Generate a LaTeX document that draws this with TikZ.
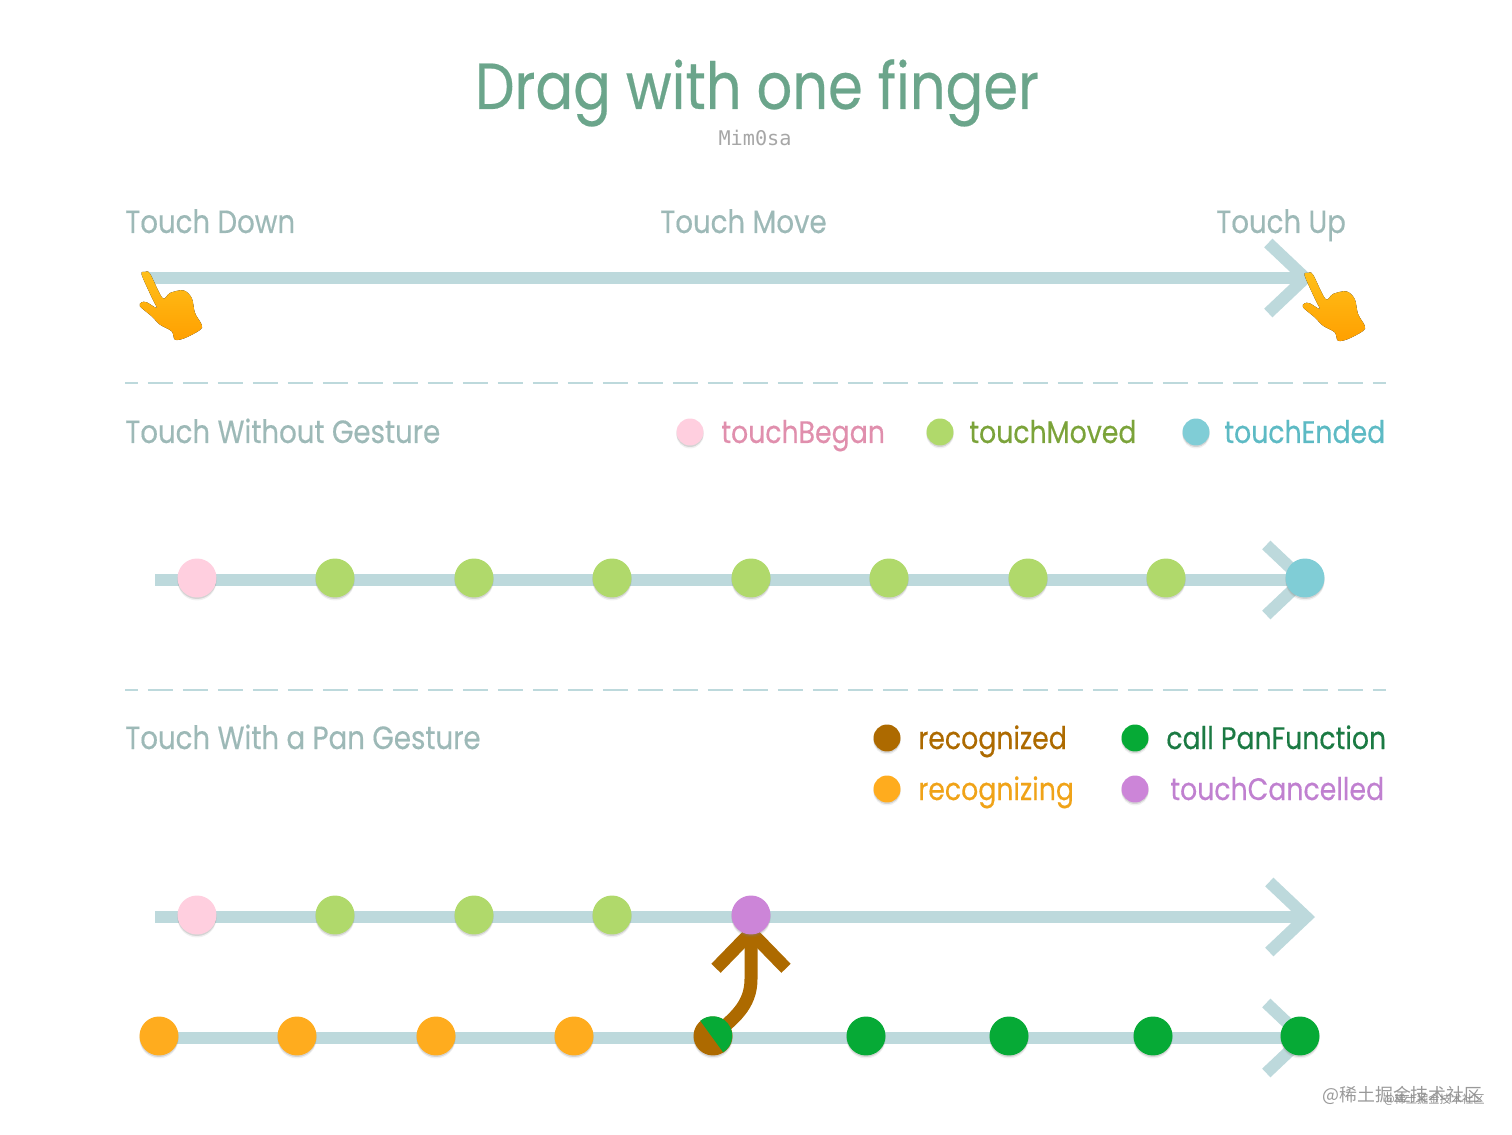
\documentclass[tikz,border=0pt]{standalone}
\usepackage{fontspec}
\setmainfont{Poppins}[FakeStretch=0.86,FakeBold=0.35]
\setmonofont{DejaVu Sans Mono}
\newfontfamily\cjk{Noto Sans CJK SC}
\usetikzlibrary{arrows.meta,backgrounds,shadows}
\definecolor{trackcol}{HTML}{BDD9DC}
\definecolor{headcol}{HTML}{6BA58B}
\definecolor{capcol}{HTML}{9DB9B7}
\definecolor{begancol}{HTML}{FFCFDF}
\definecolor{movedcol}{HTML}{B0D96B}
\definecolor{endedcol}{HTML}{80CDD6}
\definecolor{recogcol}{HTML}{AD6A00}
\definecolor{panscol}{HTML}{FFAC1E}
\definecolor{callcol}{HTML}{06AA36}
\definecolor{cancelcol}{HTML}{CC85D8}
\definecolor{begantxt}{HTML}{E08FAD}
\definecolor{movedtxt}{HTML}{7BA33A}
\definecolor{endedtxt}{HTML}{5DBAC4}
\definecolor{pantxt}{HTML}{F0A318}
\definecolor{calltxt}{HTML}{1B7A43}
\definecolor{canceltxt}{HTML}{C080D0}
\tikzset{
  dot/.style={circle,minimum size=0.78cm,inner sep=0pt,
    drop shadow={shadow xshift=0pt,shadow yshift=-0.06cm,opacity=0.12},
    drop shadow={shadow xshift=0pt,shadow yshift=-0.03cm,opacity=0.25}},
  keydot/.style={dot,minimum size=0.54cm},
  track/.style={draw=trackcol,line width=0.24cm,-{Straight Barb[length=0.74cm,width=1.4cm,line width=0.24cm]}},
  panarrow/.style={draw=recogcol,line width=0.26cm,-{Straight Barb[length=0.72cm,width=1.4cm,line width=0.26cm]}},
  caption/.style={anchor=base west,inner sep=0pt,font=\fontsize{18.3}{24}\selectfont,text=capcol},
  keytext/.style={caption,font=\fontsize{17.7}{24}\selectfont},
  divider/.style={draw=trackcol,line width=0.04cm,dash pattern=on 0.5cm off 0.2cm,dash phase=0.24cm},
  hand/.pic={
    \fill[top color=yellow!45!orange!90,bottom color=orange!75!yellow] plot[smooth cycle,tension=0.55] coordinates {
      (-3.3,-2.7) (0,0) (5,-1.7) (17.5,-26) (25,-21) (38.3,-18.3) (46.7,-26) (50,-41) (56.7,-52.7) (55,-58)
      (40,-66) (30,-67.7) (26.7,-59.3) (15,-52.7) (6.7,-44.3) (-5,-34.3) (-3.3,-30.3) (1.7,-30.3) (11.7,-36) (7.5,-27)};
  }
}
\begin{document}
\begin{tikzpicture}[x=0.02cm,y=0.02cm]
  \useasboundingbox (0,0) rectangle (1512,1134);
  \node[anchor=base,inner sep=0pt,font=\fontsize{37}{46}\selectfont,text=headcol] (title) at (757,1025) {Drag with one finger};
  \node[inner sep=0pt,font=\ttfamily\fontsize{11.5}{14}\selectfont,text=black!35] (author) at (755,996) {Mim0sa};

  \node[caption] (down) at (125,901) {Touch Down};
  \node[caption] (move) at (660,901) {Touch Move};
  \node[caption] (up) at (1216,901) {Touch Up};
  \coordinate (trackAs) at (148,856);
  \coordinate (trackAe) at (1314,856);

  \node[caption] (without) at (125,691) {Touch Without Gesture};
  \node[keydot,fill=begancol] (keybegan) at (690,702) {};
  \node[keytext,text=begantxt] (txtbegan) at (721,691) {touchBegan};
  \node[keydot,fill=movedcol] (keymoved) at (940,702) {};
  \node[keytext,text=movedtxt] (txtmoved) at (969,691) {touchMoved};
  \node[keydot,fill=endedcol] (keyended) at (1196,702) {};
  \node[keytext,text=endedtxt] (txtended) at (1224,691) {touchEnded};

  \node[dot,fill=begancol] (plainA) at (197,556) {};
  \node[dot,fill=movedcol] (plainB) at (335,556) {};
  \node[dot,fill=movedcol] (plainC) at (474,556) {};
  \node[dot,fill=movedcol] (plainD) at (612,556) {};
  \node[dot,fill=movedcol] (plainE) at (751,556) {};
  \node[dot,fill=movedcol] (plainF) at (889,556) {};
  \node[dot,fill=movedcol] (plainG) at (1028,556) {};
  \node[dot,fill=movedcol] (plainH) at (1166,556) {};
  \node[dot,fill=endedcol] (plainI) at (1305,556) {};
  \coordinate (trackBs) at (155,554);
  \coordinate (trackBe) at (1312,554);

  \node[caption] (with) at (125,385) {Touch With a Pan Gesture};
  \node[keydot,fill=recogcol] (keyrecog) at (887,396) {};
  \node[keytext,text=recogcol] (txtrecog) at (918,385) {recognized};
  \node[keydot,fill=callcol] (keycall) at (1135,396) {};
  \node[keytext,text=calltxt] (txtcall) at (1166,385) {call PanFunction};
  \node[keydot,fill=panscol] (keypan) at (887,345) {};
  \node[keytext,text=pantxt] (txtpan) at (918,334) {recognizing};
  \node[keydot,fill=cancelcol] (keycancel) at (1135,345) {};
  \node[keytext,text=canceltxt] (txtcancel) at (1170,334) {touchCancelled};

  \node[dot,fill=begancol] (gestA) at (197,219) {};
  \node[dot,fill=movedcol] (gestB) at (335,219) {};
  \node[dot,fill=movedcol] (gestC) at (474,219) {};
  \node[dot,fill=movedcol] (gestD) at (612,219) {};
  \node[dot,fill=cancelcol] (gestE) at (751,219) {};
  \coordinate (trackCs) at (155,217);
  \coordinate (trackCe) at (1315,217);

  \node[dot,fill=panscol] (panA) at (159,98) {};
  \node[dot,fill=panscol] (panB) at (297,98) {};
  \node[dot,fill=panscol] (panC) at (436,98) {};
  \node[dot,fill=panscol] (panD) at (574,98) {};
  \node[dot,fill=recogcol] (panE) at (713,98) {};
  \fill[callcol] (panE.130) arc (130:-58:19.5) -- cycle;
  \node[dot,fill=callcol] (panF) at (866,98) {};
  \node[dot,fill=callcol] (panG) at (1009,98) {};
  \node[dot,fill=callcol] (panH) at (1153,98) {};
  \node[dot,fill=callcol] (panI) at (1300,98) {};
  \coordinate (trackDs) at (165,96);
  \coordinate (trackDe) at (1312,96);
  \coordinate (bend) at (751,155);
  \coordinate (pantip) at (751,211);

  \begin{pgfonlayer}{background}
    \draw[track] (trackAs) -- (trackAe);
    \draw[track] (trackBs) -- (trackBe);
    \draw[track] (trackCs) -- (trackCe);
    \draw[track] (trackDs) -- (trackDe);
    \draw[panarrow] (panE.center) to[out=40,in=-90] (bend) -- (pantip);
  \end{pgfonlayer}

  \pic at (145,862) {hand};
  \pic at (1308,861) {hand};

  \coordinate (rulestartA) at (125,751);
  \coordinate (ruleendA) at (1386,751);
  \coordinate (rulestartB) at (125,444);
  \coordinate (ruleendB) at (1386,444);
  \draw[divider] (rulestartA) -- (ruleendA);
  \draw[divider] (rulestartB) -- (ruleendB);

  \node[inner sep=0pt,anchor=east,text=black!40,font=\cjk\fontsize{10.2}{13}\selectfont] (markA) at (1483,39) {@稀土掘金技术社区};
  \node[inner sep=0pt,anchor=east,text=black!45,font=\cjk\fontsize{6.4}{9}\selectfont] (markB) at (1485,34) {@稀土掘金技术社区};
\end{tikzpicture}
\end{document}
